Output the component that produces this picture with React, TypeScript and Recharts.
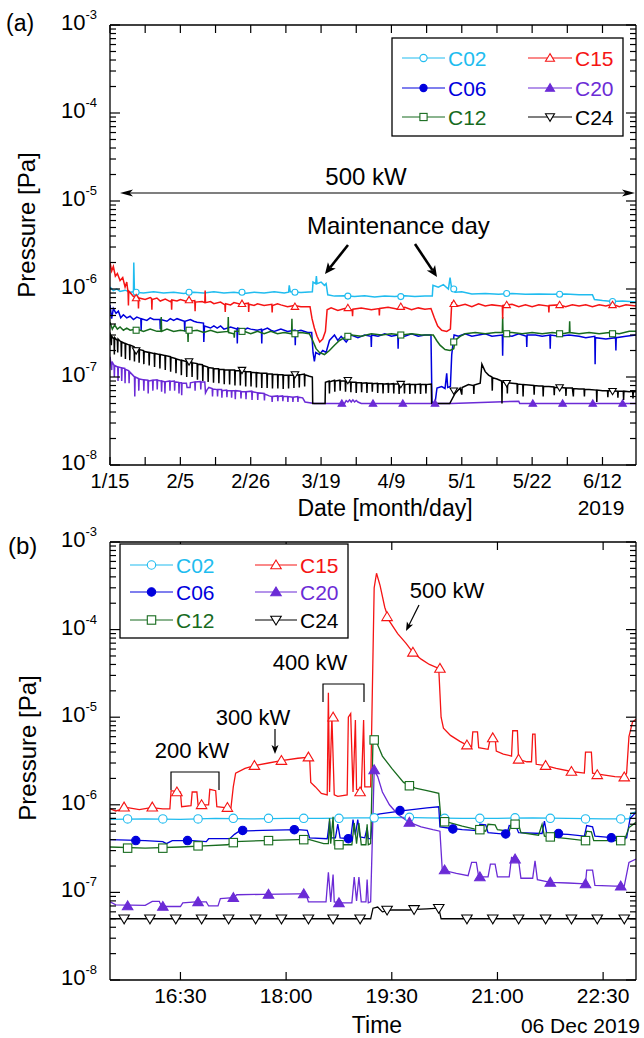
import { ComposedChart, Line, Scatter, XAxis, YAxis } from 'recharts'

type Pt = [number, number]
type Shape = 'circle' | 'dot' | 'square' | 'triUp' | 'triUpFill' | 'triDown'

const FONT = '"Liberation Sans", Arial, Helvetica, sans-serif'

// pressure axis: decades 1e-8 .. 1e-3, minor ticks at 2..9
const decades = [-8, -7, -6, -5, -4]
const mantissas = [1, 2, 3, 4, 5, 6, 7, 8, 9]
const pressureTicks = [...decades.flatMap((d) => mantissas.map((m) => Number(`${m}e${d}`))), 1e-3]

// (a) x = days after 15 Jan 2019
const dayTicks = [0, 10.5, 21, 31.5, 42, 52.5, 63, 73.5, 84, 94.5, 105, 115.5, 126, 136.5, 147]
const dayLabels = ['1/15', '2/5', '2/26', '3/19', '4/9', '5/1', '5/22', '6/12']

// (b) x = minutes after midnight, 06 Dec 2019
const timeTicks = [990, 1080, 1170, 1260, 1350]

const gauges: { name: string; color: string; shape: Shape }[] = [
  { name: 'C02', color: '#20bcef', shape: 'circle' },
  { name: 'C06', color: '#0000dd', shape: 'dot' },
  { name: 'C12', color: '#176b1e', shape: 'square' },
  { name: 'C15', color: '#f51414', shape: 'triUp' },
  { name: 'C20', color: '#6b2bd6', shape: 'triUpFill' },
  { name: 'C24', color: '#000000', shape: 'triDown' },
]

// ---------- (a) Jan - Jun 2019, 500 kW operation ----------
const aC02: Pt[] = [
  [0, 1.05e-6], [1, 9.6e-7], [2, 1.0e-6], [3, 9.4e-7], [4.5, 9.7e-7], [6, 9.2e-7], [7, 9.3e-7], [7.1, 2.0e-6], [7.3, 9.2e-7],
  [10, 9.0e-7], [13, 9.3e-7], [16, 9.0e-7], [19, 9.2e-7], [22, 8.9e-7], [25, 9.2e-7], [28, 9.0e-7], [31, 9.3e-7], [34, 9.0e-7],
  [37, 9.2e-7], [40, 8.9e-7], [43, 9.2e-7], [46, 9.0e-7], [49, 9.3e-7], [52, 9.0e-7], [53.3, 9.2e-7], [53.5, 1.1e-6], [53.8, 9.3e-7],
  [57, 9.1e-7], [60.4, 9.3e-7], [60.6, 1.2e-6], [61.4, 1.15e-6], [61.6, 1.4e-6], [61.8, 1.15e-6], [63, 1.2e-6], [64, 1.1e-6],
  [64.5, 1.15e-6], [65, 8.6e-7], [67, 8.3e-7], [70, 8.4e-7], [73, 8.2e-7], [76, 8.4e-7], [79, 8.1e-7], [82, 8.3e-7], [85, 8.2e-7],
  [88, 8.4e-7], [91, 8.2e-7], [94, 8.3e-7], [96.2, 8.3e-7], [96.4, 1.1e-6], [98, 1.05e-6], [99.5, 1.12e-6], [101, 1.0e-6],
  [101.5, 1.35e-6], [102, 1.0e-6], [103, 9.2e-7], [105, 9.3e-7], [108, 8.8e-7], [112, 8.9e-7], [116, 8.7e-7], [120, 8.9e-7],
  [124, 8.7e-7], [128, 8.8e-7], [132, 8.7e-7], [136, 8.8e-7], [140, 8.6e-7], [144, 8.6e-7], [144.6, 7.6e-7], [147, 7.4e-7],
  [150, 7.2e-7], [153, 7.3e-7], [157, 7.1e-7],
]
const aC06: Pt[] = [
  [0, 6.6e-7], [0.5, 4.6e-7], [1, 6.0e-7], [1.8, 5.3e-7], [2.5, 5.6e-7], [3.2, 4.7e-7], [4, 5.1e-7], [5, 4.7e-7], [6, 4.9e-7],
  [7, 4.5e-7], [8, 4.8e-7], [9.2, 4.6e-7], [9.3, 3.4e-7], [9.4, 4.6e-7], [11, 4.4e-7], [12, 4.7e-7], [13, 4.5e-7],
  [14.9, 4.5e-7], [15, 3.5e-7], [15.1, 4.5e-7], [17, 4.3e-7], [18, 4.6e-7], [19, 4.4e-7], [20, 4.6e-7], [22.2, 4.3e-7],
  [22.3, 3.3e-7], [22.4, 4.3e-7], [24, 4.5e-7], [25, 4.3e-7], [26, 4.2e-7], [27.9, 4.1e-7], [28, 2.5e-7], [28.2, 3.8e-7],
  [30, 3.6e-7], [31, 3.8e-7], [32, 3.6e-7], [33, 3.8e-7], [34, 3.5e-7], [36, 3.7e-7], [37.9, 3.5e-7], [38, 2.4e-7],
  [38.1, 3.6e-7], [40, 3.4e-7], [41, 3.6e-7], [42, 3.5e-7], [44, 3.4e-7], [45.2, 3.5e-7], [45.3, 2.4e-7], [45.4, 3.4e-7],
  [47, 3.6e-7], [48, 3.4e-7], [49, 3.3e-7], [51, 3.5e-7], [53, 3.3e-7], [55.2, 3.4e-7], [55.3, 2.3e-7], [55.4, 3.3e-7],
  [57, 3.4e-7], [59, 3.2e-7], [60.2, 3.2e-7], [60.6, 1.9e-7], [61, 1.5e-7], [61.4, 1.9e-7], [62.5, 1.8e-7], [63.5, 2.0e-7],
  [64.5, 1.9e-7], [65.5, 2.6e-7], [67, 3.0e-7], [68, 2.6e-7], [69, 2.9e-7], [70.5, 2.5e-7], [72, 3.0e-7], [74, 2.8e-7],
  [76, 3.0e-7], [77.9, 2.9e-7], [78, 2.2e-7], [78.1, 3.0e-7], [80, 2.9e-7], [82, 3.1e-7], [84, 2.9e-7], [85.9, 3.0e-7],
  [86, 2.1e-7], [86.1, 3.0e-7], [88, 2.9e-7], [90, 3.1e-7], [92, 2.9e-7], [94, 3.0e-7], [95.8, 3.0e-7], [96.1, 5.2e-8],
  [97, 5.0e-8], [97.6, 7.5e-8], [99, 7.8e-8], [100, 7.4e-8], [100.5, 1.1e-7], [100.8, 7.6e-8], [101.6, 7.8e-8], [102, 1.8e-7],
  [102.7, 3.0e-7], [104, 2.9e-7], [106, 3.1e-7], [108, 2.9e-7], [110, 3.0e-7], [112, 3.1e-7], [114, 2.9e-7], [117.1, 3.0e-7],
  [117.2, 1.75e-7], [117.3, 3.0e-7], [120, 2.9e-7], [122, 3.1e-7], [124.3, 2.9e-7], [124.4, 2.2e-7], [124.5, 3.0e-7],
  [127, 3.0e-7], [129, 2.9e-7], [131.3, 3.0e-7], [131.4, 2.1e-7], [131.5, 3.0e-7], [134, 2.9e-7], [137, 3.0e-7], [140, 2.9e-7],
  [142, 2.8e-7], [144.7, 2.9e-7], [144.8, 1.4e-7], [144.9, 2.8e-7], [148, 2.7e-7], [150.9, 2.8e-7], [151, 2.0e-7],
  [151.1, 2.8e-7], [154, 2.9e-7], [157, 3.0e-7],
]
const aC12: Pt[] = [
  [0, 4.2e-7], [0.7, 3.5e-7], [1.4, 3.9e-7], [2.2, 3.5e-7], [3, 3.7e-7], [4, 3.4e-7], [5, 3.6e-7], [6, 3.4e-7], [8, 3.5e-7],
  [10, 3.3e-7], [12, 3.5e-7], [14, 3.3e-7], [15.2, 3.3e-7], [15.3, 4.8e-7], [15.4, 3.3e-7], [17, 3.5e-7], [19, 3.3e-7],
  [21, 3.4e-7], [23.2, 3.3e-7], [23.3, 2.5e-7], [23.4, 3.3e-7], [26, 3.4e-7], [28, 3.2e-7], [30, 3.4e-7], [32, 3.2e-7],
  [35.2, 3.3e-7], [35.3, 4.8e-7], [35.4, 3.2e-7], [37, 3.1e-7], [37.1, 2.8e-7], [37.2, 3.3e-7], [40, 3.3e-7], [42, 3.1e-7],
  [44, 3.3e-7], [46, 3.1e-7], [48, 3.3e-7], [50, 3.1e-7], [52, 3.2e-7], [54.2, 3.1e-7], [54.3, 4.6e-7], [54.4, 3.1e-7],
  [57, 3.2e-7], [59.5, 3.1e-7], [60.5, 2.6e-7], [61.5, 2.1e-7], [62.5, 1.9e-7], [64, 1.8e-7], [65.5, 2.0e-7], [67, 2.3e-7],
  [68.5, 2.6e-7], [70, 2.8e-7], [72, 3.0e-7], [75, 2.9e-7], [78, 3.1e-7], [81, 3.0e-7], [84, 3.1e-7], [87, 3.0e-7],
  [90, 3.1e-7], [93, 3.0e-7], [96.5, 3.0e-7], [97.5, 2.6e-7], [98.5, 2.3e-7], [100, 2.05e-7], [101.5, 2.0e-7], [102.6, 2.1e-7],
  [103, 2.6e-7], [104.5, 2.9e-7], [106, 3.1e-7], [109, 3.2e-7], [112, 3.1e-7], [115, 3.2e-7], [117.1, 3.2e-7], [117.2, 4.8e-7],
  [117.3, 3.2e-7], [120, 3.2e-7], [123, 3.1e-7], [126, 3.2e-7], [129, 3.1e-7], [132, 3.2e-7], [135, 3.1e-7], [137.1, 3.2e-7],
  [137.2, 4.3e-7], [137.3, 3.2e-7], [140, 3.1e-7], [143, 3.2e-7], [146, 3.1e-7], [149, 3.2e-7], [152, 3.1e-7], [155, 3.3e-7],
  [157, 3.3e-7],
]
const aC15: Pt[] = [
  [0, 2.0e-6], [0.5, 1.6e-6], [1, 1.8e-6], [1.6, 1.4e-6], [2.2, 1.5e-6], [3, 1.25e-6], [3.8, 1.35e-6], [4.5, 1.05e-6],
  [5, 1.2e-6], [5.4, 9.0e-7], [5.5, 6.5e-7], [5.6, 9.5e-7], [7, 8.2e-7], [8, 8.6e-7], [8.4, 8.0e-7], [8.5, 6.0e-7],
  [8.6, 7.9e-7], [10.5, 7.6e-7], [12, 8.0e-7], [12.4, 7.8e-7], [12.5, 5.8e-7], [12.6, 7.6e-7], [14, 7.9e-7], [15, 7.3e-7],
  [16.5, 7.7e-7], [18, 7.2e-7], [18.3, 7.4e-7], [18.4, 5.8e-7], [18.5, 7.5e-7], [20, 7.3e-7], [21, 7.6e-7], [23, 7.2e-7],
  [25.3, 7.4e-7], [25.4, 5.6e-7], [25.5, 7.1e-7], [27.5, 7.2e-7], [28.3, 7.0e-7], [28.4, 9.6e-7], [28.5, 7.0e-7], [30, 7.2e-7],
  [31, 6.8e-7], [33, 7.1e-7], [34.3, 6.6e-7], [34.4, 5.5e-7], [34.5, 6.8e-7], [36, 6.6e-7], [37, 7.0e-7], [39, 6.7e-7],
  [41.3, 6.9e-7], [41.4, 5.5e-7], [41.5, 6.7e-7], [43, 6.5e-7], [44, 6.8e-7], [46, 6.5e-7], [48.3, 6.7e-7], [48.4, 5.4e-7],
  [48.5, 6.5e-7], [50, 6.8e-7], [51, 6.6e-7], [53, 6.3e-7], [55, 6.5e-7], [57, 6.3e-7], [59.7, 6.3e-7], [60.3, 4.6e-7],
  [61, 3.6e-7], [61.8, 2.9e-7], [62.6, 2.5e-7], [63.5, 2.7e-7], [64.3, 3.3e-7], [64.8, 5.8e-7], [66, 6.1e-7], [68, 5.7e-7],
  [70, 6.0e-7], [72.3, 5.8e-7], [72.4, 4.9e-7], [72.5, 5.9e-7], [75, 6.1e-7], [78, 5.8e-7], [80.3, 6.0e-7], [80.4, 5.0e-7],
  [80.5, 6.0e-7], [83, 6.2e-7], [86, 5.9e-7], [88, 6.2e-7], [90, 5.8e-7], [92, 6.1e-7], [94, 5.9e-7], [95.8, 6.0e-7],
  [96.8, 4.7e-7], [97.8, 3.8e-7], [99, 3.4e-7], [100.5, 3.3e-7], [101.6, 3.5e-7], [102, 6.9e-7], [104, 6.4e-7], [106, 6.7e-7],
  [108, 6.3e-7], [110, 6.8e-7], [112, 6.4e-7], [114, 6.6e-7], [117.1, 6.4e-7], [117.2, 4.6e-7], [117.3, 6.5e-7], [120, 6.7e-7],
  [122, 6.3e-7], [124, 6.6e-7], [126, 6.3e-7], [128, 6.6e-7], [130.9, 6.4e-7], [131, 5.4e-7], [131.1, 6.5e-7], [134, 6.6e-7],
  [136, 6.3e-7], [138, 6.6e-7], [140, 6.4e-7], [142, 6.6e-7], [144, 6.3e-7], [146, 6.6e-7], [148, 6.4e-7], [150, 6.7e-7],
  [152, 6.3e-7], [154, 6.6e-7], [157, 6.4e-7],
]
const aC20: Pt[] = [
  [0, 1.7e-7], [0.5, 1.2e-7], [0.6, 1.5e-7], [1.2, 1.35e-7], [1.3, 1.0e-7], [1.4, 1.35e-7], [2.3, 1.3e-7], [2.4, 9.0e-8],
  [2.5, 1.3e-7], [3.4, 1.27e-7], [3.5, 9.0e-8], [3.6, 1.27e-7], [4.4, 1.25e-7], [4.5, 8.5e-8], [4.6, 1.22e-7], [5.6, 1.18e-7],
  [5.7, 8.5e-8], [5.8, 1.15e-7], [6.8, 1.05e-7], [7.3, 1.0e-7], [7.4, 6.0e-8], [7.5, 1.0e-7], [8.5, 9.6e-8], [8.6, 7.0e-8],
  [8.7, 9.5e-8], [10, 9.3e-8], [10.1, 7.0e-8], [10.2, 9.3e-8], [11.3, 9.2e-8], [11.4, 6.5e-8], [11.5, 9.0e-8], [12.7, 9.2e-8],
  [12.8, 7.0e-8], [12.9, 9.2e-8], [14, 9.3e-8], [14.1, 7.2e-8], [14.2, 9.2e-8], [15.3, 9.0e-8], [15.4, 6.8e-8], [15.5, 9.0e-8],
  [16.3, 8.8e-8], [16.4, 6.5e-8], [16.5, 8.8e-8], [17.8, 9.0e-8], [17.9, 7.0e-8], [18, 8.9e-8], [19.2, 9.0e-8], [19.3, 7.0e-8],
  [19.4, 8.8e-8], [20.5, 8.7e-8], [20.6, 6.5e-8], [20.7, 8.6e-8], [21.3, 8.6e-8], [21.4, 6.2e-8], [21.5, 8.5e-8], [22.8, 8.5e-8],
  [23, 7.6e-8], [23.9, 7.6e-8], [24, 8.6e-8], [25.3, 8.8e-8], [25.4, 7.0e-8], [25.5, 8.8e-8], [27, 8.9e-8], [27.1, 7.2e-8],
  [27.2, 8.8e-8], [28.3, 8.8e-8], [28.5, 6.6e-8], [29, 7.2e-8], [29.5, 7.6e-8], [30.5, 7.4e-8], [30.6, 6.0e-8], [30.7, 7.3e-8],
  [32, 7.2e-8], [32.1, 6.0e-8], [32.2, 7.2e-8], [33.3, 7.2e-8], [33.4, 5.8e-8], [33.5, 7.0e-8], [34.8, 7.1e-8], [34.9, 5.9e-8],
  [35, 7.0e-8], [36.2, 7.0e-8], [36.3, 5.8e-8], [36.4, 7.0e-8], [37.3, 7.0e-8], [37.4, 5.6e-8], [37.5, 7.0e-8], [39, 6.9e-8],
  [39.1, 5.7e-8], [39.2, 6.8e-8], [40.5, 6.8e-8], [40.6, 5.6e-8], [40.7, 6.8e-8], [42.3, 6.9e-8], [42.4, 5.5e-8], [42.5, 6.8e-8],
  [44, 6.6e-8], [44.1, 5.5e-8], [44.2, 6.6e-8], [46, 6.5e-8], [46.1, 5.4e-8], [46.2, 6.4e-8], [47.5, 6.1e-8], [48.3, 6.0e-8],
  [48.4, 5.2e-8], [48.5, 6.0e-8], [50, 6.1e-8], [50.1, 5.3e-8], [50.2, 6.0e-8], [51.5, 6.1e-8], [51.6, 5.3e-8], [51.7, 6.0e-8],
  [53, 6.0e-8], [53.1, 5.2e-8], [53.2, 6.0e-8], [54.5, 5.9e-8], [54.6, 5.2e-8], [54.7, 5.9e-8], [56, 6.0e-8], [56.1, 5.2e-8],
  [56.2, 5.9e-8], [57.5, 5.8e-8], [58.2, 5.2e-8], [61, 5.0e-8], [70, 5.0e-8], [70.5, 5.4e-8], [71, 5.2e-8], [71.5, 5.5e-8],
  [72, 5.2e-8], [72.5, 5.5e-8], [73, 5.2e-8], [73.5, 5.4e-8], [74, 5.2e-8], [75, 5.0e-8], [102, 5.0e-8], [122, 5.3e-8],
  [122.3, 5.0e-8], [157, 5.0e-8],
]
const aC24: Pt[] = [
  [0, 3.2e-7], [0.4, 2.3e-7], [0.5, 2.9e-7], [1.2, 2.7e-7], [1.3, 1.8e-7], [1.4, 2.8e-7], [2.2, 2.6e-7], [2.3, 1.9e-7],
  [2.4, 2.7e-7], [3.3, 2.5e-7], [3.4, 1.7e-7], [3.5, 2.5e-7], [4.5, 2.4e-7], [4.6, 1.6e-7], [4.7, 2.4e-7], [5.8, 2.3e-7],
  [5.9, 1.55e-7], [6, 2.3e-7], [7.2, 2.2e-7], [7.3, 1.5e-7], [7.4, 2.15e-7], [8.6, 2.1e-7], [8.7, 1.45e-7], [8.8, 2.05e-7],
  [10, 2.0e-7], [10.1, 1.4e-7], [10.2, 1.95e-7], [11.6, 1.9e-7], [11.7, 1.35e-7], [11.8, 1.9e-7], [13.2, 1.85e-7],
  [13.3, 1.3e-7], [13.4, 1.85e-7], [14.8, 1.8e-7], [14.9, 1.25e-7], [15, 1.8e-7], [16.4, 1.75e-7], [16.5, 1.2e-7],
  [16.6, 1.75e-7], [18, 1.7e-7], [18.1, 1.15e-7], [18.2, 1.68e-7], [19.6, 1.62e-7], [19.7, 1.1e-7], [19.8, 1.6e-7],
  [21.2, 1.55e-7], [21.3, 1.05e-7], [21.4, 1.55e-7], [22.8, 1.5e-7], [22.9, 1.0e-7], [23, 1.5e-7], [24.4, 1.48e-7],
  [24.5, 1.0e-7], [24.6, 1.45e-7], [26, 1.42e-7], [26.1, 9.3e-8], [26.2, 1.4e-7], [27.6, 1.38e-7], [27.7, 9.0e-8],
  [27.8, 1.35e-7], [29.2, 1.3e-7], [29.3, 8.8e-8], [29.4, 1.28e-7], [30.8, 1.26e-7], [30.9, 8.6e-8], [31, 1.25e-7],
  [32.4, 1.24e-7], [32.5, 8.5e-8], [32.6, 1.22e-7], [34, 1.22e-7], [34.1, 8.3e-8], [34.2, 1.2e-7], [35.6, 1.2e-7],
  [35.7, 8.2e-8], [35.8, 1.2e-7], [37.2, 1.2e-7], [37.3, 8.0e-8], [37.4, 1.18e-7], [38.8, 1.18e-7], [38.9, 8.0e-8],
  [39, 1.17e-7], [40.4, 1.16e-7], [40.5, 7.8e-8], [40.6, 1.15e-7], [42, 1.15e-7], [42.1, 7.8e-8], [42.2, 1.13e-7],
  [43.6, 1.12e-7], [43.7, 7.6e-8], [43.8, 1.12e-7], [45.2, 1.1e-7], [45.3, 7.5e-8], [45.4, 1.1e-7], [46.8, 1.1e-7],
  [46.9, 7.5e-8], [47, 1.08e-7], [48.4, 1.08e-7], [48.5, 7.4e-8], [48.6, 1.07e-7], [50, 1.07e-7], [50.1, 7.4e-8],
  [50.2, 1.06e-7], [51.6, 1.06e-7], [51.7, 7.3e-8], [51.8, 1.05e-7], [53.2, 1.05e-7], [53.3, 7.4e-8], [53.4, 1.05e-7],
  [54.8, 1.05e-7], [54.9, 7.5e-8], [55, 1.05e-7], [56.4, 1.06e-7], [56.5, 7.6e-8], [56.6, 1.06e-7], [58, 1.08e-7],
  [58.1, 7.8e-8], [58.2, 1.06e-7], [59.5, 1.02e-7], [60.4, 1.0e-7], [60.5, 5.0e-8], [64.2, 5.0e-8], [64.3, 8.7e-8],
  [65.4, 9.0e-8], [65.5, 6.5e-8], [65.6, 8.8e-8], [67, 9.2e-8], [67.1, 6.8e-8], [67.2, 9.0e-8], [68.6, 9.2e-8], [68.7, 7.0e-8],
  [68.8, 9.0e-8], [70.2, 9.0e-8], [70.3, 6.8e-8], [70.4, 8.8e-8], [71.8, 8.8e-8], [71.9, 6.7e-8], [72, 8.7e-8], [73.4, 8.7e-8],
  [73.5, 6.6e-8], [73.6, 8.6e-8], [75, 8.6e-8], [75.1, 6.7e-8], [75.2, 8.5e-8], [76.6, 8.6e-8], [76.7, 6.6e-8], [76.8, 8.5e-8],
  [78.2, 8.5e-8], [78.3, 6.8e-8], [78.4, 8.4e-8], [79.8, 8.5e-8], [79.9, 6.6e-8], [80, 8.4e-8], [81.4, 8.4e-8], [81.5, 6.5e-8],
  [81.6, 8.3e-8], [83, 8.4e-8], [83.1, 6.6e-8], [83.2, 8.3e-8], [84.6, 8.4e-8], [84.7, 6.5e-8], [84.8, 8.3e-8], [86.2, 8.3e-8],
  [86.3, 6.4e-8], [86.4, 8.3e-8], [87.8, 8.3e-8], [87.9, 6.5e-8], [88, 8.2e-8], [89.4, 8.3e-8], [89.5, 6.4e-8], [89.6, 8.2e-8],
  [91, 8.2e-8], [91.1, 6.5e-8], [91.2, 8.2e-8], [92.6, 8.3e-8], [92.7, 6.4e-8], [92.8, 8.2e-8], [94.2, 8.2e-8], [94.3, 6.5e-8],
  [94.4, 8.2e-8], [95.9, 8.3e-8], [96, 5.0e-8], [101.4, 5.0e-8], [103, 6.5e-8], [104.5, 7.5e-8], [105, 6.3e-8], [105.1, 7.6e-8],
  [107, 8.2e-8], [108.5, 8.0e-8], [108.6, 6.4e-8], [108.7, 8.1e-8], [110.5, 8.5e-8], [111, 1.4e-7], [112, 1.15e-7],
  [113, 1.05e-7], [114, 1.0e-7], [114.1, 7.0e-8], [114.2, 9.8e-8], [115.5, 9.5e-8], [116.9, 9.0e-8], [117, 5.0e-8],
  [117.1, 8.8e-8], [118.5, 8.7e-8], [118.6, 6.5e-8], [118.7, 8.6e-8], [120, 8.5e-8], [121.5, 8.4e-8], [121.6, 6.4e-8],
  [121.7, 8.3e-8], [123.2, 8.2e-8], [123.3, 6.0e-8], [123.4, 8.2e-8], [125, 8.1e-8], [126.5, 8.0e-8], [126.6, 6.3e-8],
  [126.7, 8.0e-8], [128, 7.9e-8], [129.2, 7.9e-8], [129.3, 6.0e-8], [129.4, 7.8e-8], [131, 7.8e-8], [132.5, 7.7e-8],
  [132.6, 6.2e-8], [132.7, 7.6e-8], [134.5, 7.6e-8], [136, 7.5e-8], [136.1, 6.1e-8], [136.2, 7.5e-8], [138, 7.5e-8],
  [138.3, 6.0e-8], [138.4, 7.4e-8], [140, 7.3e-8], [141.5, 7.3e-8], [141.6, 6.0e-8], [141.7, 7.2e-8], [143, 7.2e-8],
  [145.2, 7.1e-8], [145.3, 5.2e-8], [145.4, 7.1e-8], [147, 7.0e-8], [148.5, 7.0e-8], [148.6, 5.9e-8], [148.7, 7.0e-8],
  [150, 7.0e-8], [151.5, 6.9e-8], [151.6, 5.8e-8], [151.7, 6.9e-8], [153.2, 6.9e-8], [153.3, 5.5e-8], [153.4, 6.9e-8],
  [155, 6.8e-8], [156, 6.9e-8], [156.1, 5.7e-8], [156.2, 6.8e-8], [157, 6.8e-8],
]

// symbol positions (days)
const aC02Marks: Pt[] = [
  [7.8, 9.2e-7], [23.6, 9.2e-7], [39.4, 9.2e-7], [55.2, 9.2e-7], [71, 8.3e-7], [86.8, 8.2e-7], [102.6, 1.0e-6],
  [118.4, 8.9e-7], [134.2, 8.7e-7], [150, 7.2e-7],
]
const aC12Marks: Pt[] = [
  [7.8, 3.4e-7], [23.6, 3.4e-7], [39.4, 3.3e-7], [55.2, 3.1e-7], [71, 2.9e-7], [86.8, 3.0e-7], [102.6, 2.5e-7],
  [118.4, 3.1e-7], [134.2, 3.1e-7], [150, 3.1e-7],
]
const aC15Marks: Pt[] = [
  [7.8, 7.9e-7], [23.6, 7.5e-7], [39.4, 6.8e-7], [55.2, 6.3e-7], [71, 6.1e-7], [86.8, 6.3e-7], [102.6, 6.8e-7],
  [118.4, 6.6e-7], [134.2, 6.6e-7], [150, 6.6e-7],
]
const aC20Marks: Pt[] = [
  [69.2, 5.0e-8], [78.5, 5.0e-8], [87.4, 5.0e-8], [97, 5.0e-8], [126.2, 5.0e-8], [135.1, 5.0e-8], [144.1, 5.0e-8], [153, 5.0e-8],
]
const aC24Marks: Pt[] = [
  [7.8, 2.0e-7], [23.6, 1.5e-7], [39.4, 1.2e-7], [55.2, 1.07e-7], [71, 9.2e-8], [86.8, 8.3e-8], [102.6, 7.0e-8],
  [118.4, 8.5e-8], [134.2, 7.6e-8], [150, 6.9e-8],
]

// ---------- (b) 06 Dec 2019, power ramp 200 -> 500 kW ----------
const bC02: Pt[] = [
  [930, 6.8e-7], [960, 6.9e-7], [990, 6.8e-7], [1020, 7.0e-7], [1050, 6.9e-7], [1080, 7.0e-7], [1110, 7.0e-7], [1140, 7.1e-7],
  [1155, 7.1e-7], [1180, 7.2e-7], [1200, 7.1e-7], [1230, 7.0e-7], [1260, 7.0e-7], [1290, 7.1e-7], [1320, 7.0e-7],
  [1350, 6.9e-7], [1372, 6.9e-7], [1374, 8.0e-7], [1378, 8.3e-7],
]
const bC06: Pt[] = [
  [930, 4.0e-7], [960, 3.9e-7], [975, 3.8e-7], [978, 3.6e-7], [983, 3.9e-7], [1000, 3.9e-7], [1012, 3.8e-7], [1014, 4.1e-7],
  [1032, 4.1e-7], [1036, 4.6e-7], [1040, 5.0e-7], [1060, 5.1e-7], [1090, 5.2e-7], [1098, 5.1e-7], [1100, 4.2e-7],
  [1115, 4.1e-7], [1117, 6.5e-7], [1118, 4.2e-7], [1122, 4.2e-7], [1124, 6.0e-7], [1126, 4.2e-7], [1135, 4.1e-7],
  [1137, 6.8e-7], [1139, 4.5e-7], [1141, 6.8e-7], [1143, 4.3e-7], [1147, 4.2e-7], [1149, 5.5e-7], [1150, 4.1e-7],
  [1152, 4.1e-7], [1154, 7.6e-7], [1160, 7.9e-7], [1180, 8.6e-7], [1200, 9.2e-7], [1210, 9.5e-7], [1211, 5.6e-7],
  [1220, 5.4e-7], [1230, 5.2e-7], [1240, 5.1e-7], [1244, 5.0e-7], [1245, 6.0e-7], [1250, 5.9e-7], [1252, 4.8e-7],
  [1268, 4.6e-7], [1270, 5.8e-7], [1276, 5.6e-7], [1278, 4.8e-7], [1298, 4.7e-7], [1300, 6.5e-7], [1302, 4.7e-7],
  [1320, 4.6e-7], [1334, 4.4e-7], [1336, 5.8e-7], [1341, 5.6e-7], [1343, 4.4e-7], [1360, 4.2e-7], [1370, 4.2e-7],
  [1373, 7.0e-7], [1378, 8.2e-7],
]
const bC12: Pt[] = [
  [930, 3.3e-7], [960, 3.2e-7], [990, 3.3e-7], [1010, 3.4e-7], [1030, 3.5e-7], [1036, 3.8e-7], [1060, 3.9e-7], [1090, 4.0e-7],
  [1100, 4.0e-7], [1112, 3.6e-7], [1116, 3.6e-7], [1117, 7.0e-7], [1118, 3.6e-7], [1120, 7.3e-7], [1121, 3.5e-7],
  [1130, 3.5e-7], [1136, 3.5e-7], [1138, 6.2e-7], [1140, 3.6e-7], [1142, 6.2e-7], [1144, 3.5e-7], [1148, 3.5e-7],
  [1149, 6.0e-7], [1150, 3.5e-7], [1152, 3.6e-7], [1154, 5.5e-6], [1157, 5.2e-6], [1162, 3.6e-6], [1170, 2.6e-6],
  [1180, 1.8e-6], [1190, 1.55e-6], [1200, 1.45e-6], [1210, 1.35e-6], [1212, 6.6e-7], [1220, 6.2e-7], [1230, 5.7e-7],
  [1240, 5.3e-7], [1250, 5.0e-7], [1252, 6.0e-7], [1258, 5.9e-7], [1260, 5.2e-7], [1270, 5.0e-7], [1272, 6.2e-7],
  [1278, 6.0e-7], [1280, 4.8e-7], [1295, 4.5e-7], [1298, 6.0e-7], [1300, 4.4e-7], [1320, 4.1e-7], [1334, 3.9e-7],
  [1336, 5.0e-7], [1340, 4.9e-7], [1342, 3.9e-7], [1368, 3.9e-7], [1372, 5.5e-7], [1378, 6.3e-7],
]
const bC15: Pt[] = [
  [930, 9.0e-7], [935, 8.5e-7], [945, 9.3e-7], [955, 8.8e-7], [965, 9.3e-7], [975, 9.0e-7], [981, 9.0e-7], [982, 1.45e-6],
  [990, 1.4e-6], [991, 9.5e-7], [999, 9.8e-7], [1000, 1.4e-6], [1004, 1.4e-6], [1005, 1.0e-6], [1014, 1.0e-6],
  [1015, 1.5e-6], [1020, 1.45e-6], [1021, 9.5e-7], [1028, 9.3e-7], [1033, 9.2e-7], [1035, 1.6e-6], [1037, 2.3e-6],
  [1045, 2.6e-6], [1053, 2.8e-6], [1065, 3.0e-6], [1076, 3.2e-6], [1090, 3.4e-6], [1100, 3.5e-6], [1101, 1.8e-6],
  [1105, 1.6e-6], [1110, 1.35e-6], [1115, 1.3e-6], [1116, 1.9e-5], [1117, 1.4e-6], [1119, 1.0e-5], [1121, 1.3e-6],
  [1124, 1.25e-6], [1132, 1.3e-6], [1133, 1.0e-5], [1135, 1.1e-5], [1137, 1.4e-6], [1139, 9.3e-6], [1140, 1.5e-6],
  [1144, 1.4e-6], [1146, 9.3e-6], [1147, 1.6e-6], [1152, 1.6e-6], [1155, 3.0e-4], [1157, 4.4e-4], [1160, 3.2e-4],
  [1164, 1.8e-4], [1168, 1.25e-4], [1175, 9.0e-5], [1182, 7.0e-5], [1188, 5.5e-5], [1195, 4.6e-5], [1202, 4.0e-5],
  [1210, 3.6e-5], [1212, 1.0e-5], [1214, 7.5e-6], [1220, 6.2e-6], [1228, 5.3e-6], [1234, 4.8e-6], [1238, 4.6e-6],
  [1239, 6.8e-6], [1243, 6.8e-6], [1244, 4.5e-6], [1252, 4.3e-6], [1254, 5.8e-6], [1258, 5.8e-6], [1259, 4.1e-6],
  [1265, 3.8e-6], [1272, 3.6e-6], [1273, 7.0e-6], [1277, 7.0e-6], [1278, 3.3e-6], [1285, 3.1e-6], [1289, 3.1e-6],
  [1290, 6.4e-6], [1292, 6.4e-6], [1293, 2.9e-6], [1301, 2.8e-6], [1310, 2.6e-6], [1323, 2.4e-6], [1334, 2.3e-6],
  [1335, 4.0e-6], [1340, 4.0e-6], [1341, 2.3e-6], [1350, 2.2e-6], [1360, 2.1e-6], [1368, 2.07e-6], [1370, 2.3e-6],
  [1372, 6.0e-6], [1375, 8.8e-6], [1378, 9.5e-6],
]
const bC20: Pt[] = [
  [930, 7.8e-8], [935, 7.2e-8], [960, 7.1e-8], [966, 7.9e-8], [972, 7.9e-8], [974, 6.9e-8], [990, 6.9e-8], [992, 7.6e-8],
  [1003, 7.8e-8], [1012, 7.8e-8], [1014, 7.0e-8], [1022, 7.0e-8], [1024, 8.5e-8], [1035, 8.7e-8], [1038, 9.4e-8],
  [1060, 9.5e-8], [1090, 9.6e-8], [1097, 9.6e-8], [1099, 7.8e-8], [1114, 7.8e-8], [1116, 1.7e-7], [1118, 7.8e-8],
  [1120, 1.6e-7], [1121, 7.8e-8], [1126, 7.6e-8], [1136, 7.6e-8], [1138, 1.5e-7], [1140, 8.0e-8], [1142, 1.5e-7],
  [1144, 7.8e-8], [1148, 7.8e-8], [1149, 1.4e-7], [1150, 7.6e-8], [1152, 7.8e-8], [1155, 2.5e-6], [1158, 2.1e-6],
  [1162, 1.4e-6], [1168, 1.0e-6], [1175, 7.8e-7], [1185, 6.3e-7], [1195, 5.6e-7], [1205, 5.2e-7], [1211, 5.0e-7],
  [1213, 1.8e-7], [1225, 1.65e-7], [1235, 1.55e-7], [1238, 2.2e-7], [1242, 2.2e-7], [1244, 1.5e-7], [1252, 1.5e-7],
  [1254, 2.1e-7], [1258, 2.1e-7], [1260, 1.5e-7], [1270, 1.5e-7], [1272, 2.5e-7], [1278, 2.3e-7], [1280, 1.45e-7],
  [1290, 1.45e-7], [1292, 2.3e-7], [1294, 1.4e-7], [1305, 1.3e-7], [1320, 1.28e-7], [1335, 1.25e-7], [1336, 1.8e-7],
  [1341, 1.8e-7], [1343, 1.2e-7], [1360, 1.18e-7], [1368, 1.18e-7], [1372, 2.2e-7], [1378, 2.4e-7],
]
const bC24: Pt[] = [
  [930, 5.0e-8], [1152, 5.0e-8], [1154, 6.6e-8], [1158, 6.8e-8], [1162, 6.0e-8], [1170, 6.3e-8], [1185, 6.3e-8],
  [1190, 6.4e-8], [1200, 6.5e-8], [1210, 6.6e-8], [1212, 5.0e-8], [1378, 5.0e-8],
]

const bC02Marks: Pt[] = [
  [945, 6.9e-7], [975, 6.9e-7], [1005, 6.9e-7], [1035, 7.0e-7], [1065, 7.0e-7], [1095, 7.0e-7], [1125, 7.0e-7],
  [1155, 7.1e-7], [1185, 7.2e-7], [1215, 7.0e-7], [1245, 7.0e-7], [1275, 7.1e-7], [1305, 7.0e-7], [1335, 6.9e-7], [1365, 6.9e-7],
]
const bC06Marks: Pt[] = [
  [952, 3.9e-7], [996, 3.9e-7], [1043, 5.1e-7], [1087, 5.2e-7], [1133, 4.1e-7], [1177, 8.6e-7], [1222, 5.3e-7],
  [1267, 4.65e-7], [1312, 4.7e-7], [1357, 4.2e-7],
]
const bC12Marks: Pt[] = [
  [945, 3.2e-7], [975, 3.2e-7], [1005, 3.4e-7], [1035, 3.7e-7], [1065, 3.9e-7], [1095, 4.0e-7], [1125, 3.5e-7],
  [1155, 5.5e-6], [1185, 1.65e-6], [1215, 6.4e-7], [1245, 5.2e-7], [1275, 6.0e-7], [1305, 4.3e-7], [1335, 3.9e-7], [1365, 3.9e-7],
]
const bC15Marks: Pt[] = [
  [942, 9.4e-7], [966, 9.4e-7], [987, 1.4e-6], [1008, 1.0e-6], [1030, 9.3e-7], [1053, 2.8e-6], [1076, 3.2e-6],
  [1099, 3.5e-6], [1120, 1.0e-5], [1143, 1.4e-6], [1166, 1.4e-4], [1188, 5.5e-5], [1211, 3.6e-5], [1234, 4.8e-6],
  [1256, 5.8e-6], [1278, 3.3e-6], [1301, 2.8e-6], [1323, 2.4e-6], [1345, 2.2e-6], [1368, 2.07e-6],
]
const bC20Marks: Pt[] = [
  [945, 7.0e-8], [975, 6.9e-8], [1005, 7.8e-8], [1035, 8.7e-8], [1065, 9.5e-8], [1095, 9.6e-8], [1125, 7.6e-8],
  [1155, 2.5e-6], [1185, 6.3e-7], [1215, 1.8e-7], [1245, 1.5e-7], [1275, 2.4e-7], [1305, 1.3e-7], [1335, 1.25e-7], [1365, 1.18e-7],
]
const bC24Marks: Pt[] = [
  [942, 5.0e-8], [964, 5.0e-8], [986, 5.0e-8], [1008, 5.0e-8], [1031, 5.0e-8], [1054, 5.0e-8], [1076, 5.0e-8],
  [1099, 5.0e-8], [1120, 5.0e-8], [1143, 5.0e-8], [1166, 6.3e-8], [1189, 6.4e-8], [1210, 6.6e-8], [1234, 5.0e-8],
  [1256, 5.0e-8], [1278, 5.0e-8], [1301, 5.0e-8], [1323, 5.0e-8], [1345, 5.0e-8], [1368, 5.0e-8],
]

const panelA: Record<string, [Pt[], Pt[]]> = {
  C02: [aC02, aC02Marks],
  C06: [aC06, []],
  C12: [aC12, aC12Marks],
  C15: [aC15, aC15Marks],
  C20: [aC20, aC20Marks],
  C24: [aC24, aC24Marks],
}
const panelB: Record<string, [Pt[], Pt[]]> = {
  C02: [bC02, bC02Marks],
  C06: [bC06, bC06Marks],
  C12: [bC12, bC12Marks],
  C15: [bC15, bC15Marks],
  C20: [bC20, bC20Marks],
  C24: [bC24, bC24Marks],
}

const rows = (pts: Pt[]) => pts.map(([x, y]) => ({ x, y }))
const isDecade = (v: number) => Math.abs(Math.log10(v) - Math.round(Math.log10(v))) < 1e-6
const axisLine = { stroke: '#000', strokeWidth: 1.3 }

function Marker({ shape, cx, cy, r, color }: { shape: Shape; cx: number; cy: number; r: number; color: string }) {
  const sw = 1.1
  const up = `${cx},${cy - r * 1.2} ${cx - r * 1.25},${cy + r * 0.9} ${cx + r * 1.25},${cy + r * 0.9}`
  const down = `${cx},${cy + r * 1.2} ${cx - r * 1.25},${cy - r * 0.9} ${cx + r * 1.25},${cy - r * 0.9}`
  switch (shape) {
    case 'circle':
      return <circle cx={cx} cy={cy} r={r} fill="#fff" stroke={color} strokeWidth={sw} />
    case 'dot':
      return <circle cx={cx} cy={cy} r={r} fill={color} stroke={color} strokeWidth={sw} />
    case 'square':
      return <rect x={cx - r} y={cy - r} width={2 * r} height={2 * r} fill="#fff" stroke={color} strokeWidth={sw} />
    case 'triUp':
      return <polygon points={up} fill="#fff" stroke={color} strokeWidth={sw} />
    case 'triUpFill':
      return <polygon points={up} fill={color} stroke={color} strokeWidth={sw} />
    default:
      return <polygon points={down} fill="#fff" stroke={color} strokeWidth={sw} />
  }
}

function LeftTick({ x, y, payload }: any) {
  const v = payload.value
  const major = isDecade(v)
  return (
    <g>
      <line x1={x} x2={x + (major ? 10 : 6)} y1={y} y2={y} stroke="#000" strokeWidth={1.2} />
      {major && (
        <text x={x - 13} y={y + 5} textAnchor="end" fontSize={22} fontFamily={FONT} fill="#000">
          10
          <tspan dy={-11} fontSize={13}>
            {Math.round(Math.log10(v))}
          </tspan>
        </text>
      )}
    </g>
  )
}

function RightTick({ x, y, payload }: any) {
  const major = isDecade(payload.value)
  return <line x1={x} x2={x - (major ? 10 : 6)} y1={y} y2={y} stroke="#000" strokeWidth={1.2} />
}

function TopTick({ x, y }: any) {
  return <line x1={x} x2={x} y1={y} y2={y + 8} stroke="#000" strokeWidth={1.2} />
}

interface PanelProps {
  data: Record<string, [Pt[], Pt[]]>
  height: number
  topPad: number
  bottomPad: number
  xDomain: [number, number]
  xTicks: number[]
  xLabel: (v: number) => string
  fontSize: number
  mark: number
  lineWidth: number
}

function Panel({ data, height, topPad, bottomPad, xDomain, xTicks, xLabel, fontSize, mark, lineWidth }: PanelProps) {
  const bottomTick = ({ x, y, payload }: any) => (
    <g>
      <line x1={x} x2={x} y1={y} y2={y - 8} stroke="#000" strokeWidth={1.2} />
      <text x={x} y={y + 23} textAnchor="middle" fontSize={fontSize} fontFamily={FONT} fill="#000">
        {xLabel(payload.value)}
      </text>
    </g>
  )
  return (
    <ComposedChart width={644} height={height} margin={{ top: 0, right: 0, bottom: 0, left: 0 }}>
      <XAxis
        type="number" dataKey="x" domain={xDomain} ticks={xTicks} interval={0} allowDataOverflow
        height={bottomPad} tickSize={0} tickMargin={0} tickLine={false} axisLine={axisLine} tick={bottomTick}
      />
      <XAxis
        xAxisId="top" orientation="top" type="number" dataKey="x" domain={xDomain} ticks={xTicks} interval={0}
        allowDataOverflow height={topPad} tickSize={0} tickMargin={0} tickLine={false} axisLine={axisLine} tick={TopTick}
      />
      <YAxis
        type="number" dataKey="y" scale="log" domain={[1e-8, 1e-3]} ticks={pressureTicks} interval={0} allowDataOverflow
        width={110} tickSize={0} tickMargin={0} tickLine={false} axisLine={axisLine} tick={LeftTick}
      />
      <YAxis
        yAxisId="r" orientation="right" type="number" scale="log" domain={[1e-8, 1e-3]} ticks={pressureTicks} interval={0}
        allowDataOverflow width={8} tickSize={0} tickMargin={0} tickLine={false} axisLine={axisLine} tick={RightTick}
      />
      {gauges.map((g) => {
        const [line, marks] = data[g.name]
        return [
          <Line
            key={`${g.name}-line`} data={rows(line)} dataKey="y" type="linear" stroke={g.color} strokeWidth={lineWidth}
            dot={false} activeDot={false} isAnimationActive={false}
          />,
          marks.length > 0 && (
            <Scatter
              key={`${g.name}-marks`} data={rows(marks)} dataKey="y" isAnimationActive={false}
              shape={(p: any) => <Marker shape={g.shape} cx={p.cx} cy={p.cy} r={mark} color={g.color} />}
            />
          ),
        ]
      })}
    </ComposedChart>
  )
}

function Arrow({ x1, y1, x2, y2, w = 1.2, head = 10, half = 3.5 }: any) {
  const a = Math.atan2(y2 - y1, x2 - x1)
  const c = Math.cos(a)
  const s = Math.sin(a)
  const bx = x2 - head * c
  const by = y2 - head * s
  const nx = -s * half
  const ny = c * half
  const notchX = x2 - head * 0.75 * c
  const notchY = y2 - head * 0.75 * s
  return (
    <g>
      <line x1={x1} y1={y1} x2={notchX} y2={notchY} stroke="#000" strokeWidth={w} />
      <polygon points={`${x2},${y2} ${bx + nx},${by + ny} ${notchX},${notchY} ${bx - nx},${by - ny}`} fill="#000" />
    </g>
  )
}

function Legend({ x, y, w, h, cols, rowY, r }: any) {
  return (
    <g>
      <rect x={x} y={y} width={w} height={h} fill="#fff" stroke="#000" strokeWidth={1.3} />
      {gauges.map((g, i) => {
        const col = cols[Math.floor(i / 3)]
        const cy = rowY[i % 3]
        return (
          <g key={g.name}>
            <line x1={col[0]} x2={col[1]} y1={cy} y2={cy} stroke={g.color} strokeWidth={1.2} />
            <Marker shape={g.shape} cx={(col[0] + col[1]) / 2} cy={cy} r={r} color={g.color} />
            <text x={col[1] + 3} y={cy + 8} fontSize={21} fontFamily={FONT} fill={g.color}>
              {g.name}
            </text>
          </g>
        )
      })}
    </g>
  )
}

const overlay = { position: 'absolute' as const, left: 0, top: 0, pointerEvents: 'none' as const, overflow: 'visible' as const }

export default function App() {
  return (
    <div style={{ position: 'absolute', left: 0, top: 0, width: 644, height: 1038, background: '#fff', fontFamily: FONT }}>
      {/* (a) long-term trend */}
      <div style={{ position: 'absolute', left: 0, top: 0, width: 644, height: 520 }}>
        <Panel
          data={panelA} height={520} topPad={25} bottomPad={55} xDomain={[0, 157]} xTicks={dayTicks}
          xLabel={(v) => (v % 21 === 0 ? dayLabels[v / 21] : '')} fontSize={20} mark={3} lineWidth={1.5}
        />
        <svg width={644} height={520} style={overlay} fontFamily={FONT}>
          <text x={6} y={31} fontSize={23}>(a)</text>
          <text transform="translate(35,225) rotate(-90)" textAnchor="middle" fontSize={24}>Pressure [Pa]</text>
          <text x={385} y={516} textAnchor="middle" fontSize={23}>Date [month/day]</text>
          <text x={601} y={515} textAnchor="middle" fontSize={21}>2019</text>
          <text x={366} y={185} textAnchor="middle" fontSize={24}>500 kW</text>
          <Arrow x1={378} y1={193} x2={120} y2={193} w={1.1} head={13} half={3.5} />
          <Arrow x1={378} y1={193} x2={635} y2={193} w={1.1} head={13} half={3.5} />
          <text x={307} y={234} fontSize={24}>Maintenance day</text>
          <Arrow x1={348} y1={245} x2={325} y2={274} w={2.6} head={11} half={5} />
          <Arrow x1={415} y1={244} x2={437} y2={277} w={2.6} head={11} half={5} />
          <Legend x={392} y={38} w={231} h={98} cols={[[402, 445], [528, 572]]} rowY={[58, 88, 117]} r={3.6} />
        </svg>
      </div>

      {/* (b) one evening, stepped power */}
      <div style={{ position: 'absolute', left: 0, top: 520, width: 644, height: 518 }}>
        <Panel
          data={panelB} height={518} topPad={22} bottomPad={58} xDomain={[930, 1378]} xTicks={timeTicks}
          xLabel={(v) => `${Math.floor(v / 60)}:${String(v % 60).padStart(2, '0')}`} fontSize={21} mark={4.2} lineWidth={1.3}
        />
        <svg width={644} height={518} style={overlay} fontFamily={FONT}>
          <text x={8} y={34} fontSize={24}>(b)</text>
          <text transform="translate(36,228) rotate(-90)" textAnchor="middle" fontSize={24}>Pressure [Pa]</text>
          <text x={377} y={513} textAnchor="middle" fontSize={23}>Time</text>
          <text x={640} y={513} textAnchor="end" fontSize={21}>06 Dec 2019</text>
          <text x={192} y={238} textAnchor="middle" fontSize={22}>200 kW</text>
          <path d="M171 270 V252 H219 V270" fill="none" stroke="#000" strokeWidth={1.2} />
          <text x={253} y={205} textAnchor="middle" fontSize={22}>300 kW</text>
          <Arrow x1={275} y1={209} x2={275} y2={234} w={1.2} head={9} half={3.5} />
          <text x={310} y={150} textAnchor="middle" fontSize={22}>400 kW</text>
          <path d="M323 182 V164 H364 V182" fill="none" stroke="#000" strokeWidth={1.2} />
          <text x={447} y={78} textAnchor="middle" fontSize={22}>500 kW</text>
          <Arrow x1={419} y1={85} x2={406} y2={111} w={1.2} head={9} half={3.5} />
          <Legend x={120} y={24} w={228} h={94} cols={[[130, 173], [255, 297]]} rowY={[45, 72, 100]} r={4.2} />
        </svg>
      </div>
    </div>
  )
}
